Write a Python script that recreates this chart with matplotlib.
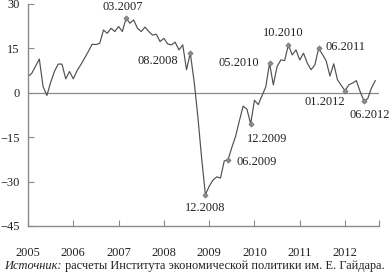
import matplotlib
matplotlib.use("Agg")
import matplotlib.pyplot as plt
import numpy as np

# Monthly values, 01.2005 .. 09.2012
values = [
    5.5, 6.6, 9.0, 11.4, 2.1, -0.9, 3.5, 7.2, 9.7, 9.7, 4.7, 7.2,          # 2005
    4.7, 7.5, 9.5, 11.7, 14.0, 16.4, 16.3, 16.7, 21.2, 20.1, 21.8, 20.7,   # 2006
    22.4, 20.7, 25.2, 23.5, 24.6, 21.8, 20.7, 22.2, 20.7, 19.5, 19.8, 17.3, # 2007
    18.4, 16.5, 16.2, 17.1, 14.5, 16.2, 7.8, 13.4, 4.0, -8.0, -22.0, -34.4, # 2008
    -31.6, -29.5, -28.4, -28.8, -23.0, -22.6, -18.5, -14.7, -9.5, -4.5, -5.5, -10.5, # 2009
    -2.5, -4.0, -1.0, 2.0, 10.0, 2.7, 8.9, 11.1, 10.9, 16.2, 12.8, 14.5,   # 2010
    11.1, 13.4, 10.0, 7.8, 9.4, 15.0, 13.0, 10.8, 5.7, 9.8, 4.4, 2.5,      # 2011
    0.7, 2.7, 3.3, 4.1, 0.4, -2.7, -2.0, 1.6, 4.1,                          # 2012
]
start_year = 2005
year_ticks = [2005, 2006, 2007, 2008, 2009, 2010, 2011, 2012]
y_ticks = [30, 15, 0, -15, -30, -45]
marked_labels = ["03.2007", "08.2008", "12.2008", "06.2009", "12.2009",
                 "05.2010", "10.2010", "06.2011", "01.2012", "06.2012"]
source_italic = "Источник:"
source_rest = " расчеты Института экономической политики им. Е. Гайдара."

# label placement (offset pixels, alignment) -- styling only
label_style = {
    "03.2007": (-3, 11, "center"),
    "08.2008": (-32, -8, "center"),
    "12.2008": (0, -13, "center"),
    "06.2009": (8, -2, "left"),
    "12.2009": (-4, -15, "left"),
    "05.2010": (-10, 0, "right"),
    "10.2010": (-5, 12, "center"),
    "06.2011": (7, 1, "left"),
    "01.2012": (-20, -11, "center"),
    "06.2012": (6, -14, "center"),
}

FONT = "Liberation Serif"
FS = 8.9
LINE_C = "#505050"
AX_C = "#8a8a8a"
TXT_C = "#222222"

x = np.array([start_year + i / 12 for i in range(len(values))])
y = np.array(values)

fig = plt.figure(figsize=(3.92, 2.78), dpi=100)
ax = fig.add_axes([28 / 392, 52 / 278, 351 / 392, 222 / 278])

ax.axhline(0, color=AX_C, lw=0.9, zorder=1)
ax.plot(x, y, color=LINE_C, lw=0.85, zorder=2)

for lab in marked_labels:
    m, yr = lab.split(".")
    idx = (int(yr) - start_year) * 12 + int(m) - 1
    ax.plot(x[idx], y[idx], marker="D", ms=2.6, color="#8c8c8c", mec="#777777",
            mew=0.6, zorder=3)
    dx, dy, ha = label_style[lab]
    ax.annotate(lab, (x[idx], y[idx]), xytext=(dx, dy), textcoords="offset pixels",
                ha=ha, va="center", fontsize=FS, family=FONT, color=TXT_C)

ax.set_xlim(2005, 2012.75)
ax.set_ylim(-45, 30)
ax.set_xticks(year_ticks + [2012.75])
ax.set_xticklabels([str(t) for t in year_ticks] + [""])
ax.set_yticks(y_ticks)
ax.set_yticklabels([f"{t}".replace("-", "−") for t in y_ticks])

for s in ["top", "right"]:
    ax.spines[s].set_visible(False)
for s in ["left", "bottom"]:
    ax.spines[s].set_color(AX_C)
    ax.spines[s].set_linewidth(1.0)

ax.tick_params(axis="x", direction="in", length=4, color=AX_C, pad=15,
               labelsize=FS, labelcolor=TXT_C)
ax.tick_params(axis="y", direction="in", length=4, color=AX_C, pad=6,
               labelsize=FS, labelcolor=TXT_C)
for lbl in ax.get_xticklabels() + ax.get_yticklabels():
    lbl.set_family(FONT)

t1 = fig.text(4 / 392, 12 / 278, source_italic, fontsize=FS, family=FONT,
              style="italic", color=TXT_C, va="center")
fig.canvas.draw()
bb = t1.get_window_extent()
fig.text(bb.x1 / fig.bbox.width, 12 / 278, source_rest, fontsize=FS, family=FONT,
         color=TXT_C, va="center")

fig.savefig("out.png", dpi=100)
